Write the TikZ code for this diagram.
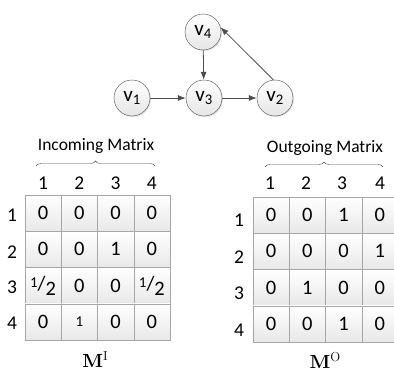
\documentclass[tikz,border=0pt]{standalone}
\usepackage[no-math]{fontspec}
\setmainfont{Carlito}
\newfontfamily\lmfont{Latin Modern Roman}
\newfontfamily\lmbold{lmroman10-bold.otf}
\usetikzlibrary{decorations.pathreplacing,shadows,arrows.meta}
\tikzset{vnode/.style={circle,draw=gray!60!black,top color=white,bottom color=gray!20,minimum size=36pt,inner sep=0pt,font=\fontsize{21}{21}\selectfont,drop shadow={opacity=0.25,shadow xshift=1pt,shadow yshift=-1pt}}}
\tikzset{cell/.style={rectangle,draw=gray!70,top color=white,bottom color=gray!18,minimum size=36.25pt,inner sep=0pt,font=\fontsize{20.5}{20.5}\selectfont}}
\tikzset{idx/.style={font=\fontsize{19.5}{19.5}\selectfont}}
\tikzset{edge/.style={draw=black!70,-{Latex[length=8pt,width=6pt]},line width=0.8pt}}
\tikzset{mbrace/.style={draw=black!70,decorate,decoration={brace,amplitude=5pt}}}
\newcommand{\half}{\raisebox{3pt}{\fontsize{15}{15}\selectfont 1}/\raisebox{-5pt}{2}}
\newcommand{\mname}[1]{{\lmbold M}\raisebox{7pt}{\lmfont\fontsize{13}{13}\selectfont #1}}

\begin{document}
\begin{tikzpicture}[x=1pt,y=-1pt]
\useasboundingbox (0,0) rectangle (394,372);

% nodes
\node[style = vnode] (v4) at (203,32) {v\textsubscript{4}};
\node[style = vnode] (v1) at (132,98) {v\textsubscript{1}};
\node[style = vnode] (v3) at (204,98) {v\textsubscript{3}};
\node[style = vnode] (v2) at (275,98) {v\textsubscript{2}};

% edges
\draw[style = edge] (v1) to (v3);
\draw[style = edge] (v4) to (v3);
\draw[style = edge] (v3) to (v2);
\draw[style = edge] (v2.95) to (v4.15);

\begin{scope}[shift={(25,195)}]

  % title
  \node[font=\fontsize{17.5}{17.5}\selectfont] (tin) at (71,-49) {Incoming Matrix};
  \coordinate (bin1) at (11,-29);
  \coordinate (bin2) at (130,-29);
  \draw[style = mbrace] (bin1) to (bin2);

  % column and row labels
  \node[style = idx] (ic1) at (18,-12) {1};
  \node[style = idx] (ic2) at (54.4,-12) {2};
  \node[style = idx] (ic3) at (90.6,-12) {3};
  \node[style = idx] (ic4) at (126.9,-12) {4};
  \node[style = idx] (ir1) at (-13,20) {1};
  \node[style = idx] (ir2) at (-13,57) {2};
  \node[style = idx] (ir3) at (-13,92) {3};
  \node[style = idx] (ir4) at (-13,128) {4};

  % cells
  \node[style = cell] (i11) at (18.1,18.1) {0};
  \node[style = cell] (i12) at (54.4,18.1) {0};
  \node[style = cell] (i13) at (90.6,18.1) {0};
  \node[style = cell] (i14) at (126.9,18.1) {0};
  \node[style = cell] (i21) at (18.1,54.4) {0};
  \node[style = cell] (i22) at (54.4,54.4) {0};
  \node[style = cell] (i23) at (90.6,54.4) {1};
  \node[style = cell] (i24) at (126.9,54.4) {0};
  \node[style = cell] (i31) at (18.1,90.6) {\half};
  \node[style = cell] (i32) at (54.4,90.6) {0};
  \node[style = cell] (i33) at (90.6,90.6) {0};
  \node[style = cell] (i34) at (126.9,90.6) {\half};
  \node[style = cell] (i41) at (18.1,126.9) {0};
  \node[style = cell] (i42) at (54.4,126.9) {\fontsize{15}{15}\selectfont 1};
  \node[style = cell] (i43) at (90.6,126.9) {0};
  \node[style = cell] (i44) at (126.9,126.9) {0};

  \node[font=\fontsize{19}{19}\selectfont] (min) at (70,165) {\mname{I}};

\end{scope}

\begin{scope}[shift={(253,197)}]

  % title
  \node[font=\fontsize{17.5}{17.5}\selectfont] (tout) at (72,-49) {Outgoing Matrix};
  \coordinate (bout1) at (12,-30);
  \coordinate (bout2) at (130,-30);
  \draw[style = mbrace] (bout1) to (bout2);

  % column and row labels
  \node[style = idx] (oc1) at (17,-14) {1};
  \node[style = idx] (oc2) at (53,-14) {2};
  \node[style = idx] (oc3) at (89,-14) {3};
  \node[style = idx] (oc4) at (127,-14) {4};
  \node[style = idx] (or1) at (-14,23) {1};
  \node[style = idx] (or2) at (-14,60) {2};
  \node[style = idx] (or3) at (-14,96) {3};
  \node[style = idx] (or4) at (-14,133) {4};

  % cells
  \node[style = cell] (o11) at (18.1,18.1) {0};
  \node[style = cell] (o12) at (54.4,18.1) {0};
  \node[style = cell] (o13) at (90.6,18.1) {1};
  \node[style = cell] (o14) at (126.9,18.1) {0};
  \node[style = cell] (o21) at (18.1,54.4) {0};
  \node[style = cell] (o22) at (54.4,54.4) {0};
  \node[style = cell] (o23) at (90.6,54.4) {0};
  \node[style = cell] (o24) at (126.9,54.4) {1};
  \node[style = cell] (o31) at (18.1,90.6) {0};
  \node[style = cell] (o32) at (54.4,90.6) {1};
  \node[style = cell] (o33) at (90.6,90.6) {0};
  \node[style = cell] (o34) at (126.9,90.6) {0};
  \node[style = cell] (o41) at (18.1,126.9) {0};
  \node[style = cell] (o42) at (54.4,126.9) {0};
  \node[style = cell] (o43) at (90.6,126.9) {1};
  \node[style = cell] (o44) at (126.9,126.9) {0};

  \node[font=\fontsize{19}{19}\selectfont] (mout) at (72,163) {\mname{O}};

\end{scope}

\end{tikzpicture}
\end{document}
